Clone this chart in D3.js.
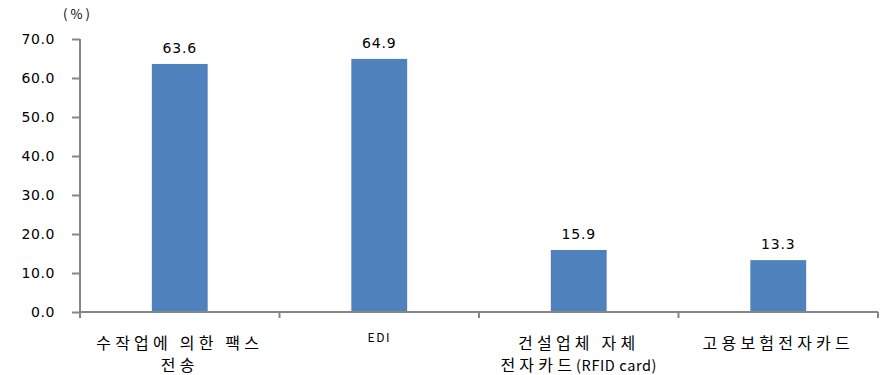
<!DOCTYPE html>
<html>
<head>
<meta charset="utf-8">
<script src="https://cdn.jsdelivr.net/npm/d3@7"></script>
<style>
  body { margin: 0; background: #fff; }
  text { font-family: "Noto Sans CJK KR", "DejaVu Sans", sans-serif; fill: #000; }
</style>
</head>
<body>
<svg id="chart" width="885" height="375"></svg>
<script>
// chart data
const categories = ['수작업에 의한 팩스\n전송', 'EDI', '건설업체 자체\n전자카드(RFID card)', '고용보험전자카드'];
const values = [63.6, 64.9, 15.9, 13.3];
const yTicks = [0, 10, 20, 30, 40, 50, 60, 70];

const width = 885;
const height = 375;
const margin = { top: 39, right: 7, bottom: 63, left: 80 };

const svg = d3.select('#chart');

const x = d3.scaleBand()
  .domain(categories)
  .range([margin.left, width - margin.right]);

const y = d3.scaleLinear()
  .domain([0, 70])
  .range([height - margin.bottom, margin.top]);

const barW = x.bandwidth() * 0.28;

// bars
svg.selectAll('rect.bar')
  .data(values)
  .enter()
  .append('rect')
  .attr('class', 'bar')
  .attr('x', (d, i) => x(categories[i]) + x.bandwidth() / 2 - barW / 2)
  .attr('y', d => y(d))
  .attr('width', barW)
  .attr('height', d => y(0) - y(d))
  .attr('fill', '#4F81BD');

// value labels
svg.selectAll('text.val')
  .data(values)
  .enter()
  .append('text')
  .attr('class', 'val')
  .attr('x', (d, i) => x(categories[i]) + x.bandwidth() / 2)
  .attr('y', d => y(d) - 11)
  .attr('text-anchor', 'middle')
  .style('font-family', '"DejaVu Sans", sans-serif')
  .style('font-size', '14px')
  .style('letter-spacing', '0.8px')
  .text(d => d.toFixed(1));

// y axis
const yAxis = svg.append('g')
  .attr('transform', `translate(${margin.left},0)`)
  .call(d3.axisLeft(y).tickValues(yTicks).tickFormat(d3.format('.1f')).tickSize(8).tickPadding(17));
yAxis.select('.domain').attr('stroke', '#868686').attr('stroke-width', 2).attr('d', `M0,${y(0)}V${y(70)}`);
yAxis.selectAll('.tick line').attr('stroke', '#868686').attr('stroke-width', 2);
yAxis.selectAll('.tick text')
  .style('font-size', '14px')
  .style('letter-spacing', '0.6px')
  .style('font-family', '"DejaVu Sans", sans-serif');

// x axis with ticks at the category boundaries
const xAxis = svg.append('g')
  .attr('transform', `translate(0,${y(0)})`);
xAxis.append('line')
  .attr('x1', margin.left).attr('x2', width - margin.right)
  .attr('stroke', '#868686').attr('stroke-width', 2);
const bounds = categories.map(c => x(c)).concat([x.range()[1]]);
xAxis.selectAll('line.tk')
  .data(bounds)
  .enter()
  .append('line')
  .attr('class', 'tk')
  .attr('x1', d => d).attr('x2', d => d)
  .attr('y1', 0).attr('y2', 6)
  .attr('stroke', '#868686').attr('stroke-width', 2);

// category labels (hangul runs spaced wider than latin runs)
categories.forEach((c, i) => {
  const cx = x(c) + x.bandwidth() / 2;
  if (c === 'EDI') {
    svg.append('text')
      .attr('x', cx).attr('y', 342)
      .attr('text-anchor', 'middle')
      .style('font-size', '12px')
      .style('letter-spacing', '1.5px')
      .text(c);
    return;
  }
  c.split('\n').forEach((ln, j) => {
    const t = svg.append('text')
      .attr('x', cx)
      .attr('y', 349 + j * 22)
      .attr('text-anchor', 'middle')
      .style('font-size', '16px');
    ln.match(/[\uAC00-\uD7A3 ]+|[^\uAC00-\uD7A3 ]+/g).forEach(part => {
      const hangul = /[\uAC00-\uD7A3]/.test(part);
      t.append('tspan')
        .style('letter-spacing', hangul ? '4.2px' : '0.6px')
        .style('font-size', hangul ? '16px' : '14.5px')
        .text(part);
    });
  });
});

// unit label
svg.append('text')
  .attr('x', 78)
  .attr('y', 19)
  .attr('text-anchor', 'middle')
  .style('font-size', '13px')
  .style('letter-spacing', '3px')
  .text('(%)');
</script>
</body>
</html>
